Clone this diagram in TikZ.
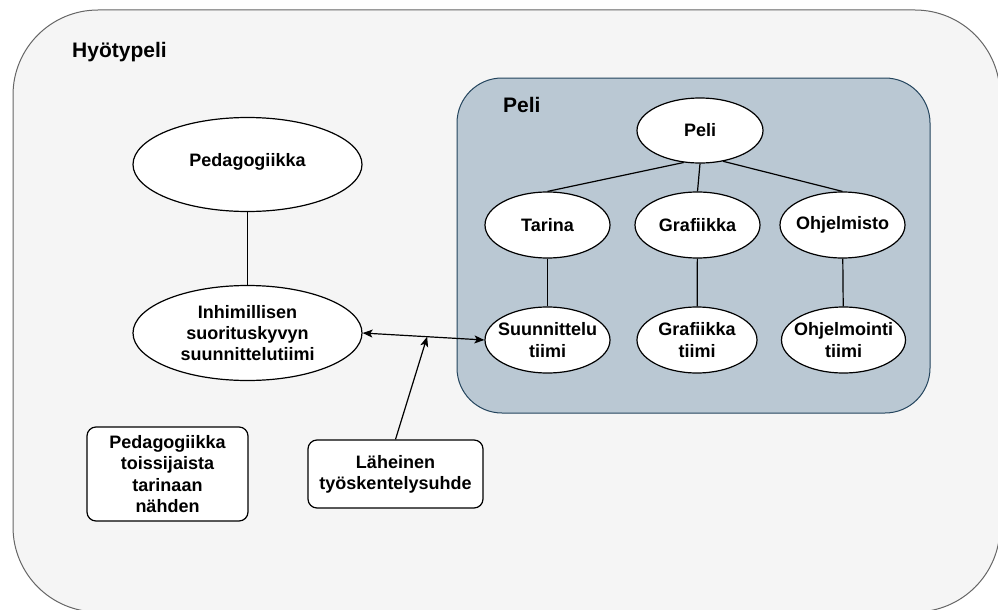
\documentclass[tikz,border=0pt]{standalone}
\usepackage{fontspec}
\setmainfont{Liberation Sans}
\usetikzlibrary{shapes.geometric,arrows.meta,calc}

\definecolor{outerfill}{HTML}{F5F5F5}
\definecolor{outerline}{HTML}{666666}
\definecolor{gamefill}{HTML}{BAC8D3}
\definecolor{gameline}{HTML}{23445D}

\tikzset{
  txt/.style={font=\bfseries\fontsize{18}{21.3}\selectfont, align=center, inner sep=0pt},
  title/.style={font=\bfseries\fontsize{21}{25}\selectfont, inner sep=0pt},
  bubble/.style 2 args={draw=black, line width=1.2pt, fill=white, ellipse, inner sep=0pt,
    minimum width=#1pt, minimum height=#2pt},
  notebox/.style 2 args={draw=black, line width=1.2pt, fill=white, rectangle, rounded corners=9pt,
    inner sep=0pt, minimum width=#1pt, minimum height=#2pt, txt},
  link/.style={draw=black, line width=1.2pt},
  arrow/.style={link, arrows={-Stealth[length=10pt, width=8pt, inset=2.5pt]}},
  biarrow/.style={link, arrows={Stealth[length=10pt, width=8pt, inset=2.5pt]-Stealth[length=10pt, width=8pt, inset=2.5pt]}},
}

\begin{document}
\begin{tikzpicture}[x=1pt, y=-1pt]
\useasboundingbox (0,0) rectangle (998,610);

% outer frame: the serious game as a whole
\draw[fill=outerfill, draw=outerline, line width=1pt, rounded corners=85pt] (13,10) rectangle (1000,612);
\node[title, anchor=west] (hyoty) at (72,52) {Hyötypeli};

% inner frame: the game itself
\draw[fill=gamefill, draw=gameline, line width=1pt, rounded corners=45pt] (457,78) rectangle (930,413);
\node[title, anchor=west] (pelititle) at (503,105) {Peli};

% pedagogy side
\node[bubble={229}{94}, label={[txt, yshift=3pt]center:Pedagogiikka}] (peda) at (247.5,164.5) {};
\node[bubble={229}{95}, label={[txt]center:Inhimillisen\\suorituskyvyn\\suunnittelutiimi}] (inh) at (247.5,333) {};

% game tree
\node[bubble={126}{65}, label={[txt]center:Peli}] (peli) at (700,130.5) {};
\node[bubble={125}{66}, label={[txt]center:Tarina}] (tar) at (547.5,225) {};
\node[bubble={125}{66}, label={[txt]center:Grafiikka}] (graf) at (697.5,225) {};
\node[bubble={125}{66}, label={[txt]center:Ohjelmisto}] (ohj) at (842.5,225) {};
\node[bubble={125}{66}, label={[txt]center:Suunnittelu\\tiimi}] (suun) at (547.5,340) {};
\node[bubble={120}{66}, label={[txt]center:Grafiikka\\tiimi}] (graft) at (697,340) {};
\node[bubble={124}{66}, label={[txt]center:Ohjelmointi\\tiimi}] (ohjt) at (843.5,340) {};

% notes
\node[notebox={161}{94}] (note) at (167.5,474) {Pedagogiikka\\toissijaista\\tarinaan\\nähden};
\node[notebox={175}{68}] (lah) at (395.5,474) {Läheinen\\työskentelysuhde};

% connectors
\draw[link] (peda) -- (inh);
\draw[link] (peli.243) -- (tar.north);
\draw[link] (peli.south) -- (graf.north);
\draw[link] (peli.307) -- (ohj.north);
\draw[link] (tar) -- (suun);
\draw[link] (graf) -- (graft);
\draw[link] (ohj) -- (ohjt);
\draw[biarrow] (inh.east) -- coordinate[pos=0.53] (meet) (suun.west);
\draw[arrow] (lah.north) -- (meet);
\end{tikzpicture}
\end{document}
